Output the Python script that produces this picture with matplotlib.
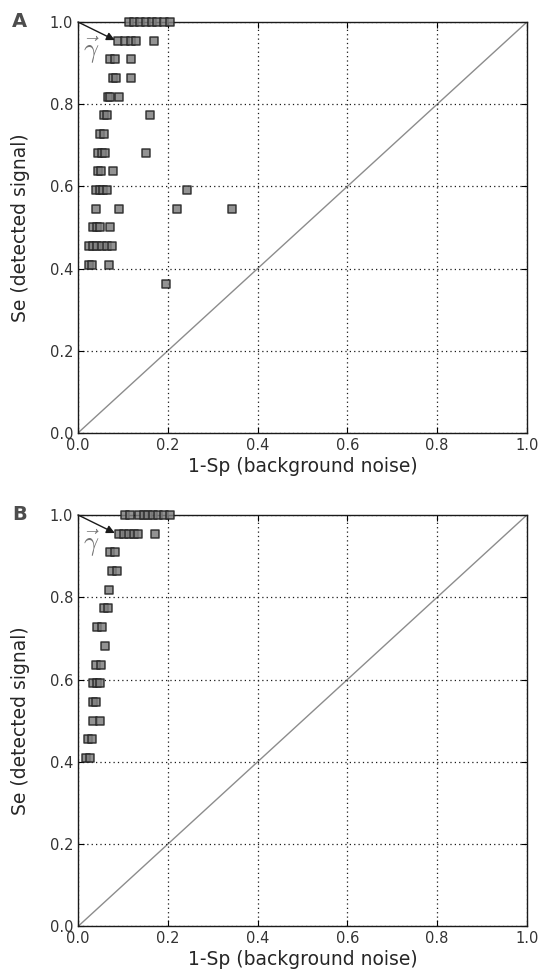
import matplotlib
matplotlib.use('Agg')
import matplotlib.pyplot as plt
import numpy as np

plt.rc('font', family='DejaVu Sans')

# Se levels are multiples of 1/22
# panel A: (1-Sp, Se) pairs
a_x = [0.113, 0.125, 0.139, 0.152, 0.165, 0.176, 0.191, 0.206,
       0.090, 0.104, 0.117, 0.130, 0.169,
       0.072, 0.083, 0.119,
       0.079, 0.085, 0.119,
       0.066, 0.072, 0.091,
       0.058, 0.064, 0.161,
       0.048, 0.057,
       0.045, 0.053, 0.060, 0.152,
       0.045, 0.051, 0.079,
       0.040, 0.048, 0.055, 0.064, 0.242,
       0.040, 0.092, 0.220, 0.343,
       0.034, 0.042, 0.049, 0.072,
       0.025, 0.033, 0.042, 0.053, 0.064, 0.075,
       0.025, 0.031, 0.070,
       0.195]
a_k = [22]*8 + [21]*5 + [20]*3 + [19]*3 + [18]*3 + [17]*3 + [16]*2 + [15]*4 \
    + [14]*3 + [13]*5 + [12]*4 + [11]*4 + [10]*6 + [9]*3 + [8]

# panel B
b_x = [0.105, 0.116, 0.135, 0.146, 0.157, 0.168, 0.179, 0.192, 0.206,
       0.092, 0.103, 0.113, 0.124, 0.133, 0.171,
       0.072, 0.083,
       0.075, 0.087,
       0.068,
       0.059, 0.066,
       0.043, 0.053,
       0.060,
       0.040, 0.051,
       0.034, 0.042, 0.049,
       0.034, 0.040,
       0.034, 0.048,
       0.023, 0.032,
       0.018, 0.027]
b_k = [22]*9 + [21]*6 + [20]*2 + [19]*2 + [18] + [17]*2 + [16]*2 + [15] \
    + [14]*2 + [13]*3 + [12]*2 + [11]*2 + [10]*2 + [9]*2

ticks = [0.0, 0.2, 0.4, 0.6, 0.8, 1.0]

fig = plt.figure(figsize=(5.4, 9.69), dpi=100)
axA = fig.add_axes([0.1444, 0.5532, 0.8315, 0.4241])
axB = fig.add_axes([0.1444, 0.0439, 0.8315, 0.4247])

for ax, xs, ks, lab in [(axA, a_x, a_k, 'A'), (axB, b_x, b_k, 'B')]:
    ys = np.array(ks) / 22.0
    ax.plot([0, 1], [0, 1], color='0.55', lw=1.0, zorder=1)
    ax.scatter(xs, ys, marker='s', s=30, facecolor='0.5', edgecolor='0.12',
               linewidth=1.1, alpha=0.85, zorder=3, clip_on=False)
    ax.annotate('', xy=(0.082, 0.956), xytext=(0.0, 1.0),
                arrowprops=dict(arrowstyle='-|>', color='0.1', lw=1.0,
                                mutation_scale=12, shrinkA=0, shrinkB=0),
                zorder=4)
    ax.text(0.03, 0.93, r'$\vec{\gamma}$', fontsize=19, color='0.45',
            ha='center', va='center', math_fontfamily='cm')
    ax.set_xlim(0, 1)
    ax.set_ylim(0, 1)
    ax.set_xticks(ticks)
    ax.set_yticks(ticks)
    ax.grid(True, color='0.1', linestyle=(0, (1, 2.5)), linewidth=0.9)
    ax.tick_params(direction='in', top=True, right=True, labelsize=10.5,
                   labelcolor='0.2', length=4, width=0.8)
    for s in ax.spines.values():
        s.set_linewidth(1.0)
        s.set_color('0.1')
    ax.set_xlabel('1-Sp (background noise)', fontsize=13.5, color='0.15',
                  labelpad=3)
    ax.set_ylabel('Se (detected signal)', fontsize=13.5, color='0.15',
                  labelpad=14)
    ax.text(-0.147, 1.0, lab, transform=ax.transAxes, fontsize=14,
            fontweight='bold', color='0.3', ha='left', va='center')

plt.savefig('out.png', dpi=100)
